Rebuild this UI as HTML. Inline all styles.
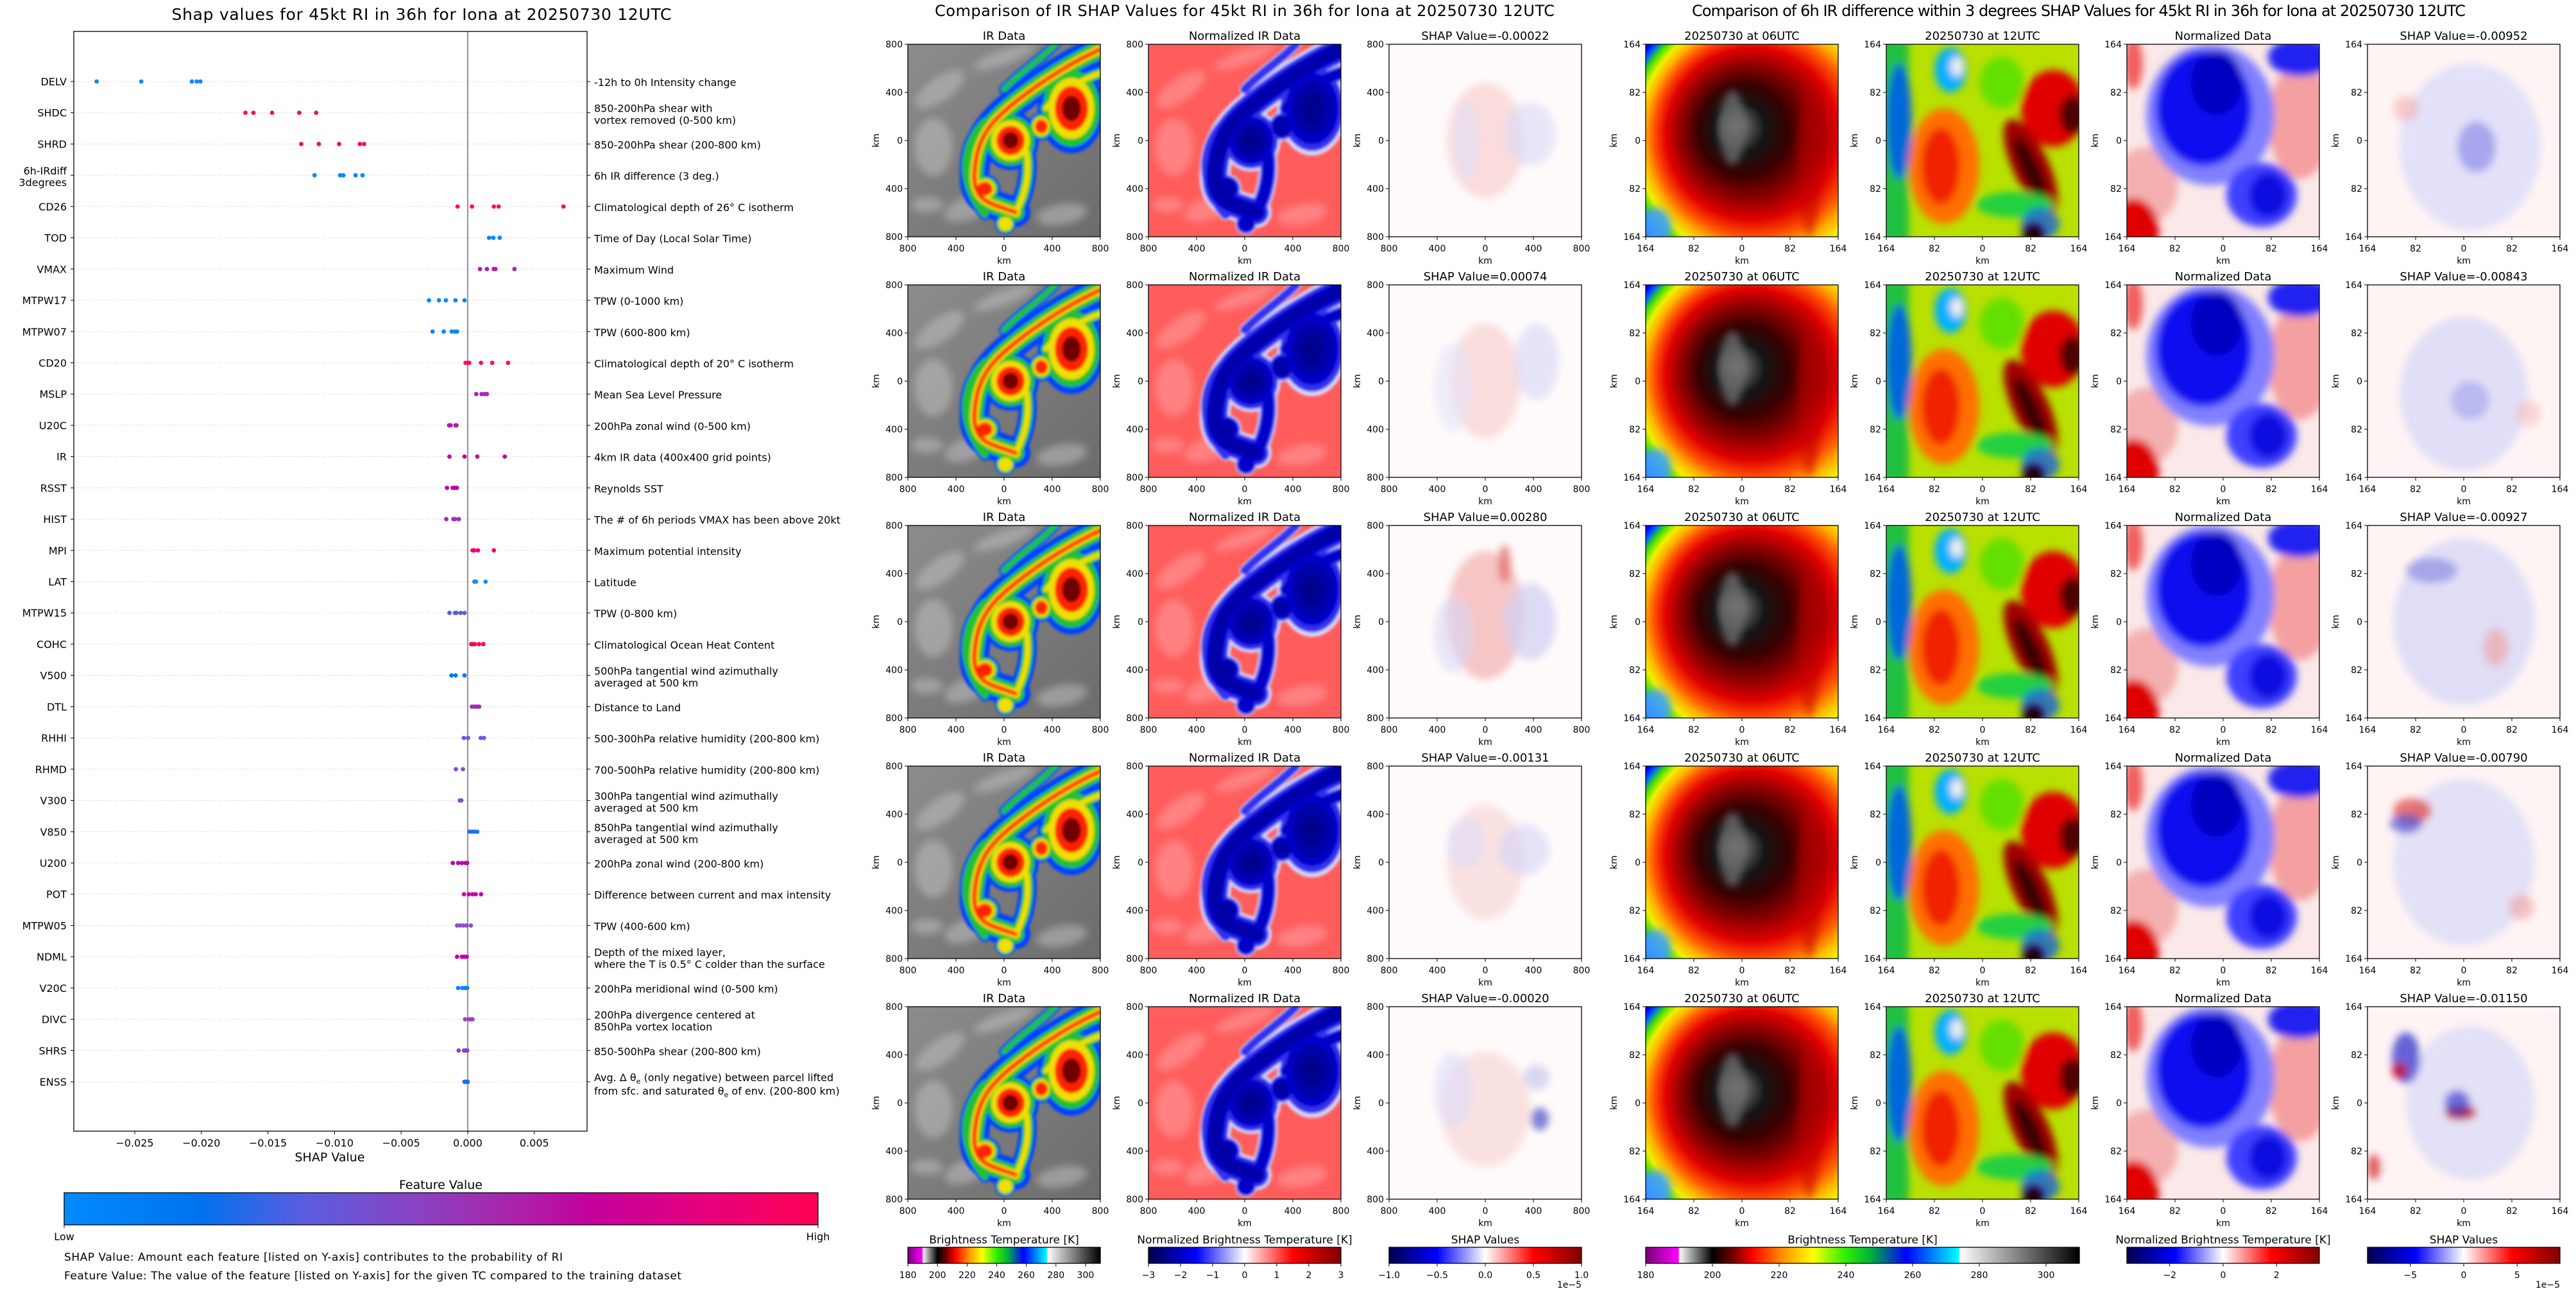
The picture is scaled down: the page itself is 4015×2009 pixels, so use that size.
<!DOCTYPE html>
<html><head><meta charset="utf-8"><title>SHAP RI figure</title>
<style>
html,body{margin:0;padding:0;background:#fff;}
svg{display:block;font-family:"DejaVu Sans","Liberation Sans",sans-serif;}
</style></head>
<body>
<svg id="fig" xmlns="http://www.w3.org/2000/svg" width="4015" height="2009" viewBox="0 0 4015 2009">
<defs>
 <linearGradient id="gFeature" x1="0" x2="1" y1="0" y2="0">
  <stop offset="0" stop-color="#008bfb"/><stop offset="0.18" stop-color="#0072ee"/>
  <stop offset="0.32" stop-color="#5b5cdf"/><stop offset="0.47" stop-color="#8a42c2"/>
  <stop offset="0.6" stop-color="#ac22a8"/><stop offset="0.7" stop-color="#c4009c"/>
  <stop offset="0.85" stop-color="#e6007c"/><stop offset="1" stop-color="#ff0053"/>
 </linearGradient>
 <linearGradient id="gBT" x1="0" x2="1" y1="0" y2="0">
  <stop offset="0" stop-color="#7a007a"/><stop offset="0.076" stop-color="#ff00ff"/>
  <stop offset="0.077" stop-color="#ffffff"/><stop offset="0.154" stop-color="#000000"/>
  <stop offset="0.2" stop-color="#700000"/><stop offset="0.246" stop-color="#ff0000"/>
  <stop offset="0.32" stop-color="#ff9900"/><stop offset="0.385" stop-color="#ffff00"/>
  <stop offset="0.46" stop-color="#30f000"/><stop offset="0.52" stop-color="#00b040"/>
  <stop offset="0.6" stop-color="#0000ff"/><stop offset="0.722" stop-color="#00ffff"/>
  <stop offset="0.724" stop-color="#ffffff"/><stop offset="1" stop-color="#000000"/>
 </linearGradient>
 <linearGradient id="gSeismic" x1="0" x2="1" y1="0" y2="0">
  <stop offset="0" stop-color="#00004c"/><stop offset="0.25" stop-color="#0000ff"/>
  <stop offset="0.5" stop-color="#ffffff"/><stop offset="0.75" stop-color="#ff0000"/>
  <stop offset="1" stop-color="#800000"/>
 </linearGradient>
 <radialGradient id="gEye" cx="0.62" cy="0.5" r="0.78" fx="0.46" fy="0.42">
  <stop offset="0" stop-color="#8a8a8a"/><stop offset="0.08" stop-color="#555"/>
  <stop offset="0.17" stop-color="#151515"/><stop offset="0.3" stop-color="#380000"/>
  <stop offset="0.45" stop-color="#900000"/><stop offset="0.57" stop-color="#e00000"/>
  <stop offset="0.67" stop-color="#ff5000"/><stop offset="0.75" stop-color="#ffb000"/>
  <stop offset="0.82" stop-color="#f0f000"/><stop offset="0.89" stop-color="#40e000"/>
  <stop offset="0.95" stop-color="#0060ff"/><stop offset="1" stop-color="#0000ff"/>
 </radialGradient>
 <linearGradient id="gGrey" x1="0" y1="0" x2="1" y2="1">
  <stop offset="0" stop-color="#8c8c8c"/><stop offset="1" stop-color="#6c6c6c"/>
 </linearGradient>
 <filter id="blur2" x="-10%" y="-10%" width="120%" height="120%"><feGaussianBlur stdDeviation="2"/></filter>
 <filter id="blur6" x="-20%" y="-20%" width="140%" height="140%"><feGaussianBlur stdDeviation="6"/></filter>
</defs>
</svg>
<script>
// ---------------- SHAP summary chart data ----------------
const featureCodes = ["DELV","SHDC","SHRD","6h-IRdiff\n3degrees","CD26","TOD","VMAX","MTPW17","MTPW07","CD20","MSLP","U20C","IR","RSST","HIST","MPI","LAT","MTPW15","COHC","V500","DTL","RHHI","RHMD","V300","V850","U200","POT","MTPW05","NDML","V20C","DIVC","SHRS","ENSS"];
const featureDescs = ["-12h to 0h Intensity change","850-200hPa shear with\nvortex removed (0-500 km)","850-200hPa shear (200-800 km)","6h IR difference (3 deg.)","Climatological depth of 26° C isotherm","Time of Day (Local Solar Time)","Maximum Wind","TPW (0-1000 km)","TPW (600-800 km)","Climatological depth of 20° C isotherm","Mean Sea Level Pressure","200hPa zonal wind (0-500 km)","4km IR data (400x400 grid points)","Reynolds SST","The # of 6h periods VMAX has been above 20kt","Maximum potential intensity","Latitude","TPW (0-800 km)","Climatological Ocean Heat Content","500hPa tangential wind azimuthally\naveraged at 500 km","Distance to Land","500-300hPa relative humidity (200-800 km)","700-500hPa relative humidity (200-800 km)","300hPa tangential wind azimuthally\naveraged at 500 km","850hPa tangential wind azimuthally\naveraged at 500 km","200hPa zonal wind (200-800 km)","Difference between current and max intensity","TPW (400-600 km)","Depth of the mixed layer,\nwhere the T is 0.5° C colder than the surface","200hPa meridional wind (0-500 km)","200hPa divergence centered at\n850hPa vortex location","850-500hPa shear (200-800 km)","ENSS_LABEL"];
const shapValues = [
 [-0.02786,-0.02451,-0.02071,-0.02035,-0.02007],
 [-0.01669,-0.01609,-0.01469,-0.01265,-0.01138],
 [-0.0125,-0.01118,-0.00966,-0.0081,-0.00778],
 [-0.0115,-0.00958,-0.00934,-0.00842,-0.0079],
 [-0.00076,0.00032,0.00196,0.00232,0.00719],
 [0.0016,0.00192,0.0024],
 [0.00092,0.00144,0.00196,0.00208,0.00351],
 [-0.00291,-0.00216,-0.00164,-0.00092,-0.00024],
 [-0.00264,-0.0018,-0.0012,-0.00096,-0.0008],
 [-0.00016,0,0.00012,0.001,0.00184,0.00303],
 [0.00064,0.00104,0.00128,0.00144],
 [-0.0014,-0.00128,-0.00092,-0.00084],
 [-0.00137,-0.00024,0.00072,0.00278],
 [-0.00156,-0.00113,-0.00101,-0.00089,-0.00081],
 [-0.00161,-0.00108,-0.00096,-0.00067],
 [0.00036,0.00048,0.00077,0.00196],
 [0.0005,0.00062,0.00134],
 [-0.00137,-0.00096,-0.00084,-0.00053,-0.00024],
 [0.00026,0.00038,0.00053,0.00084,0.00117],
 [-0.00122,-0.00091,-0.00024],
 [0.00031,0.00048,0.00062,0.00074,0.00086],
 [-0.00029,0.00002,0.00098,0.00122],
 [-0.00089,-0.00036],
 [-0.0006,-0.00048],
 [0.00014,0.00034,0.00053,0.00072],
 [-0.00112,-0.00072,-0.00044,-0.00016,-0.00004],
 [-0.00028,0.00008,0.00036,0.0006,0.001],
 [-0.0008,-0.00056,-0.00032,-0.00008,0.00024],
 [-0.0008,-0.00044,-0.00028,-0.00008],
 [-0.00072,-0.0004,-0.0002,-0.00004],
 [-0.0002,0.00008,0.00024,0.00036],
 [-0.00068,-0.00028,-0.00016,-0.00004],
 [-0.00024,-0.00016,-0.00008,0]
];
const dotColors = ["#0a8af8","#ff0a55","#ff0a55","#0a86f8","#ff0a55","#0a86f8","#a820b0","#0a86f8","#0a86f8","#ff0a58","#a828b0","#a820b0","#c4009c","#c000a0","#9a30b8","#f00070","#1e88f5","#5a5ee0","#ff0058","#0a7af0","#9a30b0","#6a5ae0","#7a50d8","#8050d0","#2070f0","#c000a8","#c800a0","#8a50d0","#c000a8","#0a80f5","#a040c0","#9040c0","#1070f0"];
const xTickValues = [-0.025,-0.020,-0.015,-0.010,-0.005,0.000,0.005];
const xTickLabels = ["\u22120.025","\u22120.020","\u22120.015","\u22120.010","\u22120.005","0.000","0.005"];

// ---------------- image panel data ----------------
const irShapTitles = ["SHAP Value=-0.00022","SHAP Value=0.00074","SHAP Value=0.00280","SHAP Value=-0.00131","SHAP Value=-0.00020"];
const diffShapTitles = ["SHAP Value=-0.00952","SHAP Value=-0.00843","SHAP Value=-0.00927","SHAP Value=-0.00790","SHAP Value=-0.01150"];
const irTickLabels = ["800","400","0","400","800"];
const diffTickLabels = ["164","82","0","82","164"];
const btTicks = [180,200,220,240,260,280,300];
const normIrTicks = [-3,-2,-1,0,1,2,3];
const shapIrTicks = ["\u22121.0","\u22120.5","0.0","0.5","1.0"];
const normDiffTicks = [-2,0,2];
const shapDiffTicks = [-5,0,5];

const NS = "http://www.w3.org/2000/svg";
const svg = document.getElementById("fig");
function mk(tag, attrs, parent){
  const e = document.createElementNS(NS, tag);
  for (const k in attrs) e.setAttribute(k, attrs[k]);
  (parent || svg).appendChild(e);
  return e;
}
function txt(str, x, y, size, anchor, parent){
  const t = mk("text", {x:x, y:y, "font-size":size, "text-anchor":anchor||"start", fill:"#000"}, parent);
  t.textContent = str;
  return t;
}

// ---------------- left chart ----------------
const AX = {left:115, right:915, top:49, bottom:1763};
function xScale(v){ return 729 + v / 0.005 * 103.8; }
function yRow(i){ return 127 + i * 48.72; }

const chart = mk("g", {});



let t = txt("Shap values for 45kt RI in 36h for Iona at 20250730 12UTC", 657, 31, 25, "middle", chart);
t.setAttribute("textLength", "779");



featureCodes.forEach((code, i) => {
  const y = yRow(i);
  const gl = mk("line", {x1:AX.left, x2:AX.right, y1:y, y2:y, stroke:"#c8c8c8", "stroke-width":1, "stroke-dasharray":"1.5 3"}, chart);
  
  
  const tk = mk("line", {x1:AX.left-5, x2:AX.left, y1:y, y2:y, stroke:"#000", "stroke-width":1}, chart);
  
  
  const tk2 = mk("line", {x1:AX.right, x2:AX.right+5, y1:y, y2:y, stroke:"#000", "stroke-width":1}, chart);
  
  
  const lines = code.split("\n");
  const lab = mk("text", {x:104, y:0, "font-size":16, "text-anchor":"end"}, chart);
  
  
  lines.forEach((ln, k) => {
    const ts = mk("tspan", {x:104, y: lines.length===1 ? y+6 : y-1+k*18}, lab);
    ts.textContent = ln;
  });
  const desc = featureDescs[i];
  const rl = mk("text", {x:926, y:0, "font-size":16}, chart);
  
  
  if (desc === "ENSS_LABEL") {
    const a = mk("tspan", {x:926, y:y-1}, rl); a.textContent = "Avg. \u0394 \u03b8";
    const a2 = mk("tspan", {"font-size":11, dy:4}, rl); a2.textContent = "e";
    const a3 = mk("tspan", {dy:-4}, rl); a3.textContent = " (only negative) between parcel lifted";
    const b = mk("tspan", {x:926, y:y+20}, rl); b.textContent = "from sfc. and saturated \u03b8";
    const b2 = mk("tspan", {"font-size":11, dy:4}, rl); b2.textContent = "e";
    const b3 = mk("tspan", {dy:-4}, rl); b3.textContent = " of env. (200-800 km)";
  } else {
    const dl = desc.split("\n");
    dl.forEach((ln, k) => {
      const ts = mk("tspan", {x:926, y: dl.length===1 ? y+7 : y-1+k*18.5}, rl);
      ts.textContent = ln;
    });
  }
});

const zl = mk("line", {x1:xScale(0), x2:xScale(0), y1:AX.top, y2:AX.bottom, stroke:"#999", "stroke-width":2.2}, chart);



shapValues.forEach((vals, i) => {
  vals.forEach(v => {
    const d = mk("ellipse", {cx:xScale(v), cy:yRow(i), rx:3.4, ry:3.4, fill:dotColors[i]}, chart);
    
    
  });
});

const frame = mk("rect", {x:AX.left, y:AX.top, width:AX.right-AX.left, height:AX.bottom-AX.top, fill:"none", stroke:"#000", "stroke-width":1.3}, chart);



xTickValues.forEach((v, k) => {
  const x = xScale(v);
  const tl = mk("line", {x1:x, x2:x, y1:AX.bottom, y2:AX.bottom+5, stroke:"#000", "stroke-width":1}, chart);
  
  
  const tt = txt(xTickLabels[k], x, 1787, 16, "middle", chart);
  
  
});
t = txt("SHAP Value", 514, 1810, 19, "middle", chart);



t = txt("Feature Value", 687, 1853, 19, "middle", chart);


const fcb = mk("rect", {x:100, y:1859, width:1175, height:50, fill:"url(#gFeature)", stroke:"#000", "stroke-width":1.3}, chart);


[100,1275].forEach(x => {
  const l = mk("line", {x1:x, x2:x, y1:1909, y2:1914, stroke:"#000"}, chart);
  
  
});
t = txt("Low", 100, 1933, 16, "middle", chart);


t = txt("High", 1275, 1933, 16, "middle", chart);


t = txt("SHAP Value: Amount each feature [listed on Y-axis] contributes to the probability of RI", 100, 1965, 17, "start", chart);
t.setAttribute("textLength", "777");


t = txt("Feature Value: The value of the feature [listed on Y-axis] for the given TC compared to the training dataset", 100, 1994, 17, "start", chart);
t.setAttribute("textLength", "962");



// ---------------- image panels ----------------
const rowTops = [69,444,819,1194,1569];
const leftCols = [1415,1790,2165];
const rightCols = [2565,2940,3315,3690];
const P = 300;
let clipN = 0;

function panelGroup(x, y, name){
  const id = "clip" + (clipN++);
  const cp = mk("clipPath", {id:id});
  mk("rect", {x:0, y:0, width:P, height:P}, cp);
  const g = mk("g", {transform:"translate("+x+","+y+")"});
  
  
  const inner = mk("g", {"clip-path":"url(#"+id+")"}, g);
  return {g:g, inner:inner};
}
function axesDecor(pg, title, ticks, titleName){
  const g = pg.g;
  const f = mk("rect", {x:0, y:0, width:P, height:P, fill:"none", stroke:"#000", "stroke-width":1.3}, g);
  
  
  for (let k=0;k<5;k++){
    const p = k*P/4;
    mk("line", {x1:p, x2:p, y1:P, y2:P+5, stroke:"#000"}, g);
    mk("line", {x1:-5, x2:0, y1:p, y2:p, stroke:"#000"}, g);
    const a = txt(ticks[k], p, P+23, 14, "middle", g);
    
    
    const b = txt(ticks[k], -8, p+5, 14, "end", g);
    
    
  }
  const xl = txt("km", P/2, P+42, 14, "middle", g);
  
  
  const yl = txt("km", 0, 0, 14, "middle", g);
  yl.setAttribute("transform", "translate(-45,"+(P/2)+") rotate(-90)");
  
  
  const tt = txt(title, P/2, -7, 18, "middle", g);
  
  
}

// storm geometry (local panel coords)
const arms = [
 {d:"M300,8 C255,28 205,60 165,92 S108,148 104,198 S132,248 168,262", w:46, n:4},
 {d:"M185,168 C190,200 184,232 168,262", w:28, n:3},
 {d:"M300,45 C270,55 235,75 215,100", w:26, n:3},
 {d:"M120,120 C80,160 80,220 120,265", w:18, n:2},
 {d:"M230,0 C200,30 180,40 150,70", w:16, n:2}
];
const blobs = [
 {cx:255, cy:100, rx:52, ry:70, n:5},
 {cx:160, cy:150, rx:44, ry:46, n:5},
 {cx:208, cy:128, rx:20, ry:22, n:4},
 {cx:120, cy:225, rx:24, ry:22, n:4},
 {cx:152, cy:280, rx:16, ry:16, n:3}
];
function drawStorm(inner, bg, streak, layers, armScale, blobScale){
  mk("rect", {x:0, y:0, width:P, height:P, fill:bg}, inner);
  const sg = mk("g", {filter:"url(#blur6)", opacity:0.55}, inner);
  [[50,70,45,18,-35],[40,160,30,45,0],[95,255,40,18,-20],[240,265,40,16,-10],[150,20,50,12,-20],[30,250,25,12,0]].forEach(s=>{
    mk("ellipse", {cx:s[0], cy:s[1], rx:s[2], ry:s[3], fill:streak, transform:"rotate("+s[4]+" "+s[0]+" "+s[1]+")"}, sg);
  });
  const cg = mk("g", {filter:"url(#blur2)"}, inner);
  for (let k=0;k<layers.length;k++){
    arms.forEach(a => { if (k < a.n) mk("path", {d:a.d, fill:"none", stroke:layers[k], "stroke-width":a.w*armScale[k], "stroke-linecap":"round"}, cg); });
    blobs.forEach(b => { if (k < b.n) mk("ellipse", {cx:b.cx, cy:b.cy, rx:b.rx*blobScale[k], ry:b.ry*blobScale[k], fill:layers[k]}, cg); });
  }
}
const irLayers = ["#0040ff","#20c030","#f0e000","#ff2000","#700000"];
const irArmScale = [1, 0.6, 0.3, 0.15, 0.08];
const irBlobScale = [1, 0.85, 0.68, 0.5, 0.28];
const normLayers = ["#d8d8ff","#3030f0","#0000c8","#0000a8","#000090"];
const normArmScale = [1.05, 0.85, 0.6, 0.35, 0.15];
const normBlobScale = [1.05, 0.95, 0.8, 0.6, 0.35];

// SHAP-panel patches per row: [cx,cy,rx,ry,color,opacity]
const irShapPatches = [
 [[150,150,60,90,"#f6c8c8",0.6],[220,140,40,50,"#d8d8f6",0.6],[120,150,20,60,"#e0e0f8",0.6]],
 [[150,150,55,90,"#f6caca",0.6],[230,120,35,60,"#d6d6f6",0.6],[100,160,30,70,"#e4e4f8",0.6]],
 [[150,140,60,100,"#f2b0b0",0.7],[220,150,40,60,"#cfcff4",0.7],[180,60,10,30,"#e06060",0.7],[100,170,30,60,"#d8d8f6",0.6]],
 [[150,150,60,90,"#f6d0d0",0.6],[210,130,40,40,"#d4d4f6",0.6],[120,120,30,40,"#dcdcf8",0.6]],
 [[150,160,70,90,"#f6d0d0",0.6],[235,175,14,18,"#6060d0",0.8],[230,110,20,20,"#c8c8f0",0.7],[100,130,30,60,"#dcdcf8",0.6]]
];
const diffShapPatches = [
 [[160,160,110,130,"#dcdcfa",0.8],[170,160,30,40,"#9090e8",0.7],[60,100,20,20,"#f4b0b0",0.6]],
 [[150,170,100,120,"#dadaf8",0.8],[160,180,30,30,"#a0a0ec",0.6],[250,200,20,20,"#f4c0c0",0.6]],
 [[150,150,110,130,"#d8d8f8",0.8],[100,70,40,20,"#8080e0",0.6],[200,190,20,30,"#f0a0a0",0.6]],
 [[150,150,110,130,"#dcdcf8",0.8],[70,70,30,20,"#e04040",0.7],[60,90,25,15,"#5050d0",0.7],[240,220,20,20,"#f0a0a0",0.6]],
 [[160,150,100,120,"#dcdcf8",0.8],[60,80,22,40,"#4040d0",0.8],[50,100,12,12,"#d00000",0.8],[145,165,25,12,"#c00000",0.8],[140,150,20,20,"#4040d0",0.7],[10,250,10,20,"#d02020",0.7]]
];

function drawShap(inner, patches, bg){
  mk("rect", {x:0, y:0, width:P, height:P, fill:bg}, inner);
  const g = mk("g", {filter:"url(#blur6)"}, inner);
  patches.forEach(p => mk("ellipse", {cx:p[0], cy:p[1], rx:p[2], ry:p[3], fill:p[4], opacity:p[5]}, g));
}
function drawEye(inner){
  mk("rect", {x:0, y:0, width:P, height:P, fill:"url(#gEye)"}, inner);
  const g = mk("g", {filter:"url(#blur6)"}, inner);
  mk("ellipse", {cx:135, cy:130, rx:20, ry:58, fill:"#6a6a6a", opacity:0.8}, g);
  mk("ellipse", {cx:255, cy:180, rx:18, ry:120, fill:"#c00000", opacity:0.5}, g);
  mk("ellipse", {cx:15, cy:285, rx:25, ry:30, fill:"#40a0ff", opacity:0.9}, g);
}
function drawTwelve(inner){
  mk("rect", {x:0, y:0, width:P, height:P, fill:"#b8e000"}, inner);
  const g = mk("g", {filter:"url(#blur6)"}, inner);
  mk("rect", {x:-10, y:-10, width:45, height:320, fill:"#20c040"}, g);
  mk("ellipse", {cx:20, cy:120, rx:20, ry:90, fill:"#0050ff", opacity:0.8}, g);
  mk("ellipse", {cx:100, cy:40, rx:25, ry:35, fill:"#00b0ff"}, g);
  mk("ellipse", {cx:110, cy:35, rx:10, ry:15, fill:"#f0f0f0"}, g);
  mk("ellipse", {cx:90, cy:190, rx:55, ry:90, fill:"#ff7000"}, g);
  mk("ellipse", {cx:85, cy:190, rx:30, ry:60, fill:"#f02000"}, g);
  mk("ellipse", {cx:260, cy:100, rx:50, ry:60, fill:"#e00000"}, g);
  mk("ellipse", {cx:290, cy:110, rx:20, ry:30, fill:"#500000"}, g);
  mk("ellipse", {cx:225, cy:190, rx:28, ry:80, fill:"#a00000", transform:"rotate(-25 225 190)"}, g);
  mk("ellipse", {cx:225, cy:195, rx:14, ry:55, fill:"#3a0000", transform:"rotate(-25 225 195)"}, g);
  mk("ellipse", {cx:200, cy:250, rx:60, ry:20, fill:"#20d040"}, g);
  mk("ellipse", {cx:240, cy:280, rx:30, ry:25, fill:"#0050ff", opacity:0.7}, g);
  mk("ellipse", {cx:230, cy:295, rx:18, ry:18, fill:"#200000"}, g);
  mk("ellipse", {cx:180, cy:60, rx:35, ry:40, fill:"#40e000", opacity:0.7}, g);
}
function drawNormDiff(inner){
  mk("rect", {x:0, y:0, width:P, height:P, fill:"#fbe8e8"}, inner);
  const g = mk("g", {filter:"url(#blur6)"}, inner);
  mk("ellipse", {cx:270, cy:120, rx:50, ry:90, fill:"#f4a0a0"}, g);
  mk("ellipse", {cx:30, cy:220, rx:50, ry:60, fill:"#f4b0b0"}, g);
  mk("ellipse", {cx:10, cy:290, rx:40, ry:50, fill:"#e00000"}, g);
  mk("ellipse", {cx:10, cy:30, rx:15, ry:40, fill:"#f06060"}, g);
  mk("ellipse", {cx:130, cy:110, rx:100, ry:110, fill:"#8080ff"}, g);
  mk("ellipse", {cx:120, cy:100, rx:75, ry:90, fill:"#1010f0"}, g);
  mk("ellipse", {cx:140, cy:60, rx:40, ry:50, fill:"#0000c0"}, g);
  mk("ellipse", {cx:270, cy:20, rx:50, ry:30, fill:"#2020f0"}, g);
  mk("ellipse", {cx:210, cy:235, rx:55, ry:50, fill:"#4040ff"}, g);
  mk("ellipse", {cx:220, cy:235, rx:30, ry:35, fill:"#1010e0"}, g);
}

rowTops.forEach((ty, r) => {
  let pg = panelGroup(leftCols[0], ty, "ir-data-panel");
  drawStorm(pg.inner, "url(#gGrey)", "#c0c0c0", irLayers, irArmScale, irBlobScale);
  axesDecor(pg, "IR Data", irTickLabels, "ir-data-title");
  pg = panelGroup(leftCols[1], ty, "normalized-ir-panel");
  drawStorm(pg.inner, "#ff5c5c", "#ffa0a0", normLayers, normArmScale, normBlobScale);
  axesDecor(pg, "Normalized IR Data", irTickLabels, "normalized-ir-title");
  pg = panelGroup(leftCols[2], ty, "ir-shap-panel");
  drawShap(pg.inner, irShapPatches[r], "#fffafa");
  axesDecor(pg, irShapTitles[r], irTickLabels, "ir-shap-title");

  pg = panelGroup(rightCols[0], ty, "ir-06utc-panel");
  drawEye(pg.inner);
  axesDecor(pg, "20250730 at 06UTC", diffTickLabels, "ir-06utc-title");
  pg = panelGroup(rightCols[1], ty, "ir-12utc-panel");
  drawTwelve(pg.inner);
  axesDecor(pg, "20250730 at 12UTC", diffTickLabels, "ir-12utc-title");
  pg = panelGroup(rightCols[2], ty, "normalized-diff-panel");
  drawNormDiff(pg.inner);
  axesDecor(pg, "Normalized Data", diffTickLabels, "normalized-diff-title");
  pg = panelGroup(rightCols[3], ty, "diff-shap-panel");
  drawShap(pg.inner, diffShapPatches[r], "#fff4f4");
  axesDecor(pg, diffShapTitles[r], diffTickLabels, "diff-shap-title");
});

t = txt("Comparison of IR SHAP Values for 45kt RI in 36h for Iona at 20250730 12UTC", 1940, 25, 24, "middle");
t.setAttribute("textLength", "966");


t = txt("Comparison of 6h IR difference within 3 degrees SHAP Values for 45kt RI in 36h for Iona at 20250730 12UTC", 3240, 25, 24, "middle");
t.setAttribute("textLength", "1206");



// ---------------- colorbars ----------------
function colorbar(x, w, grad, title, ticks, lo, hi, name, exp){
  const g = mk("g", {});
  
  
  const tt = txt(title, x+w/2, 1938, 17, "middle", g);
  
  
  mk("rect", {x:x, y:1944, width:w, height:25, fill:grad, stroke:"#000", "stroke-width":1.3}, g);
  ticks.forEach(tv => {
    const v = parseFloat(String(tv).replace("\u2212","-"));
    const px = x + (v - lo) / (hi - lo) * w;
    mk("line", {x1:px, x2:px, y1:1969, y2:1974, stroke:"#000"}, g);
    const l = txt(String(tv).replace(/^-/, "\u2212"), px, 1992, 14, "middle", g);
    
    
  });
  if (exp){
    const e = txt("1e\u22125", x+w, 2007, 14, "end", g);
    
    
  }
}
colorbar(1415, 300, "url(#gBT)", "Brightness Temperature [K]", btTicks, 180, 310, "bt-colorbar", false);
colorbar(1790, 300, "url(#gSeismic)", "Normalized Brightness Temperature [K]", normIrTicks, -3, 3, "normalized-bt-colorbar", false);
colorbar(2165, 300, "url(#gSeismic)", "SHAP Values", shapIrTicks, -1, 1, "ir-shap-colorbar", true);
colorbar(2565, 676, "url(#gBT)", "Brightness Temperature [K]", btTicks, 180, 310, "diff-bt-colorbar", false);
colorbar(3315, 300, "url(#gSeismic)", "Normalized Brightness Temperature [K]", normDiffTicks, -3.6, 3.6, "diff-normalized-colorbar", false);
colorbar(3690, 300, "url(#gSeismic)", "SHAP Values", shapDiffTicks, -9, 9, "diff-shap-colorbar", true);
</script>
</body></html>
